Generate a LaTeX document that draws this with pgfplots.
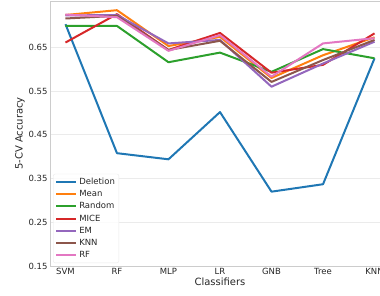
\documentclass[border=0pt]{standalone}
\usepackage{pgfplots}
\pgfplotsset{compat=1.18}
\usepackage{fontspec}
\setmainfont{DejaVu Sans}
\definecolor{cDel}{HTML}{1F77B4}
\definecolor{cMean}{HTML}{FF7F0E}
\definecolor{cRand}{HTML}{2CA02C}
\definecolor{cMICE}{HTML}{D62728}
\definecolor{cEM}{HTML}{9467BD}
\definecolor{cKNN}{HTML}{8C564B}
\definecolor{cRF}{HTML}{E377C2}
\definecolor{spine}{HTML}{CCCCCC}
\definecolor{gridc}{HTML}{EBEBEB}
\definecolor{txt}{HTML}{262626}
\begin{document}
\begin{tikzpicture}[x=1pt,y=1pt]
\begin{scope}
\clip (0,0) rectangle (380,295);
\begin{axis}[
  at={(50pt,29pt)}, anchor=south west,
  scale only axis, width=340pt, height=265pt,
  xmin=-0.3, xmax=6.3, ymin=0.15, ymax=0.756,
  xtick={0,1,2,3,4,5,6},
  xticklabels={SVM,RF,MLP,LR,GNB,Tree,KNN},
  ytick={0.15,0.25,0.35,0.45,0.55,0.65},
  yticklabel style={/pgf/number format/fixed,/pgf/number format/fixed zerofill,/pgf/number format/precision=2},
  /pgf/number format/assume math mode=true,
  tick label style={font=\fontsize{8.5}{10}\selectfont, text=txt},
  major tick length=0pt,
  xticklabel style={yshift=1pt},
  yticklabel style={xshift=1pt},
  axis line style={spine},
  ymajorgrids, grid style={gridc, line width=0.8pt},
  xlabel={Classifiers}, ylabel={5-CV Accuracy},
  label style={font=\fontsize{10}{12}\selectfont, text=txt},
  xlabel style={yshift=4pt},
  ylabel style={yshift=-3pt},
  every axis plot/.append style={line width=2pt, line join=round},
  legend cell align=left,
  legend style={at={(0.009,0.011)}, anchor=south west, draw=gridc, rounded corners=2pt,
    fill=white, fill opacity=0.8, text opacity=1,
    font=\fontsize{8.5}{10}\selectfont, text=txt, row sep=0.4pt,
    inner xsep=2pt, inner ysep=2pt},
  legend image code/.code={\draw[#1] (0pt,0pt) -- (20pt,0pt);},
]
\addplot[cDel] coordinates {(0,0.703) (1,0.408) (2,0.394) (3,0.502) (4,0.320) (5,0.337) (6,0.625)};
\addlegendentry{Deletion}
\addplot[cMean] coordinates {(0,0.724) (1,0.735) (2,0.653) (3,0.674) (4,0.580) (5,0.632) (6,0.673)};
\addlegendentry{Mean}
\addplot[cRand] coordinates {(0,0.699) (1,0.699) (2,0.616) (3,0.638) (4,0.594) (5,0.646) (6,0.625)};
\addlegendentry{Random}
\addplot[cMICE] coordinates {(0,0.661) (1,0.726) (2,0.644) (3,0.683) (4,0.592) (5,0.610) (6,0.682)};
\addlegendentry{MICE}
\addplot[cEM] coordinates {(0,0.723) (1,0.724) (2,0.659) (3,0.667) (4,0.560) (5,0.613) (6,0.663)};
\addlegendentry{EM}
\addplot[cKNN] coordinates {(0,0.716) (1,0.722) (2,0.644) (3,0.665) (4,0.571) (5,0.621) (6,0.667)};
\addlegendentry{KNN}
\addplot[cRF] coordinates {(0,0.725) (1,0.719) (2,0.642) (3,0.678) (4,0.583) (5,0.659) (6,0.671)};
\addlegendentry{RF}
\end{axis}
\end{scope}
\pgfresetboundingbox
\useasboundingbox (0,0) rectangle (380,295);
\end{tikzpicture}
\end{document}
